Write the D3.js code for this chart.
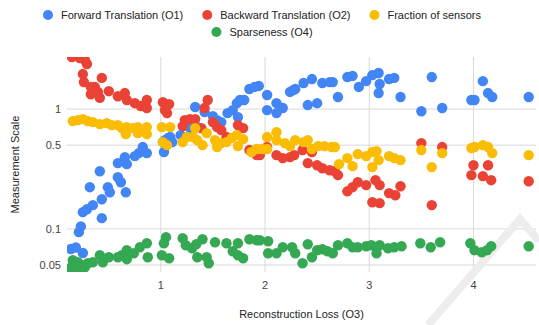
<!DOCTYPE html>
<html>
<head>
<meta charset="utf-8">
<script src="https://cdn.jsdelivr.net/npm/d3@7"></script>
<style>
  body { margin: 0; background: #fff; }
  text { font-family: Arial, "Liberation Sans", sans-serif; }
</style>
</head>
<body>
<script>
// reconstruction loss (O3) vs measurement, one [x, y] pair per point
const forward = [
  [0.156,0.045],[0.137,0.068],[0.185,0.070],[0.214,0.094],[0.233,0.105],[0.252,0.063],[0.252,0.138],
  [0.291,0.146],[0.319,0.223],[0.348,0.158],[0.415,0.303],[0.434,0.123],[0.434,0.177],[0.492,0.223],
  [0.511,0.202],[0.588,0.270],[0.617,0.245],[0.664,0.202],[0.588,0.354],[0.655,0.397],[0.674,0.347],
  [0.751,0.405],[0.789,0.429],[0.827,0.482],[0.866,0.429],[1.02,0.530],[1.03,0.438],[1.04,0.551],
  [1.07,0.573],[1.09,0.584],[1.11,0.530],[1.19,0.606],[1.28,0.694],[1.33,1.04],[1.35,0.707],
  [1.42,0.944],[1.50,0.874],[1.54,0.809],[1.58,0.779],[1.64,0.926],[1.69,0.98],[1.73,1.12],
  [1.74,0.857],[1.76,1.19],[1.80,1.19],[1.85,1.47],[1.90,1.53],[1.94,1.56],[2.02,0.98],[2.02,1.31],
  [2.11,1.12],[2.11,0.926],[2.17,1.02],[2.24,1.39],[2.27,1.44],[2.29,1.47],[2.37,1.65],[2.45,1.78],
  [2.41,1.08],[2.50,1.12],[2.55,1.65],[2.62,1.68],[2.65,1.68],[2.70,1.26],[2.79,1.85],[2.84,1.89],
  [2.90,1.53],[2.97,1.71],[3.03,1.92],[3.09,2.0],[3.10,1.62],[3.09,1.36],[3.19,1.78],[3.24,1.82],
  [3.30,1.26],[3.50,0.96],[3.60,1.85],[3.70,1.02],[3.98,1.19],[4.01,1.19],[4.09,1.71],[4.14,1.36],
  [4.18,1.26],[4.53,1.26]
];
const backward = [
  [0.147,2.72],[0.223,2.67],[0.271,2.57],[0.291,2.38],[0.252,1.96],[0.262,1.68],[0.329,1.53],
  [0.367,1.53],[0.434,1.82],[0.396,1.39],[0.329,1.33],[0.415,1.24],[0.501,1.41],[0.588,1.28],
  [0.655,1.36],[0.674,1.19],[0.751,1.12],[0.808,1.06],[0.866,1.19],[0.866,1.02],[1.02,1.14],
  [1.04,0.98],[1.08,1.10],[1.06,0.926],[1.23,0.809],[1.21,0.721],[1.28,0.825],[1.33,0.825],
  [1.42,1.02],[1.45,1.19],[1.39,0.694],[1.50,0.779],[1.54,0.707],[1.58,0.668],[1.63,0.584],
  [1.74,0.735],[1.79,0.694],[1.85,0.455],[1.92,0.413],[1.95,0.413],[2.02,0.482],[2.11,0.413],
  [2.17,0.390],[2.24,0.397],[2.28,0.413],[2.36,0.455],[2.45,0.438],[2.41,0.354],[2.50,0.340],
  [2.55,0.321],[2.62,0.309],[2.67,0.303],[2.70,0.281],[2.79,0.206],[2.84,0.223],[2.89,0.245],
  [2.97,0.232],[3.06,0.255],[3.10,0.232],[3.03,0.167],[3.10,0.164],[3.19,0.199],[3.25,0.191],
  [3.30,0.227],[3.60,0.158],[3.50,0.520],[3.70,0.482],[4.00,0.340],[4.14,0.340],[3.98,0.281],
  [4.09,0.276],[4.17,0.255],[4.53,0.250]
];
const fraction = [
  [0.156,0.794],[0.204,0.809],[0.252,0.825],[0.300,0.794],[0.348,0.779],[0.415,0.749],[0.482,0.764],
  [0.530,0.735],[0.588,0.735],[0.626,0.694],[0.674,0.707],[0.664,0.618],[0.732,0.694],[0.779,0.707],
  [0.779,0.630],[0.818,0.668],[0.866,0.707],[0.866,0.618],[1.01,0.707],[1.09,0.707],[1.02,0.530],
  [1.06,0.500],[1.21,0.530],[1.25,0.584],[1.31,0.584],[1.33,0.694],[1.35,0.551],[1.40,0.500],
  [1.44,0.630],[1.52,0.551],[1.54,0.482],[1.58,0.520],[1.63,0.530],[1.68,0.573],[1.73,0.606],
  [1.74,0.491],[1.79,0.561],[1.87,0.438],[1.92,0.464],[1.97,0.464],[2.02,0.464],[2.02,0.584],
  [2.11,0.642],[2.11,0.551],[2.19,0.520],[2.24,0.491],[2.29,0.551],[2.37,0.530],[2.41,0.551],
  [2.45,0.464],[2.51,0.491],[2.57,0.491],[2.64,0.482],[2.67,0.482],[2.71,0.347],[2.79,0.390],
  [2.84,0.334],[2.89,0.421],[2.97,0.405],[3.03,0.438],[3.07,0.446],[3.09,0.375],[3.03,0.328],
  [3.19,0.405],[3.24,0.390],[3.30,0.375],[3.50,0.455],[3.60,0.328],[3.70,0.429],[3.98,0.473],
  [4.01,0.482],[4.09,0.500],[4.14,0.482],[4.18,0.429],[4.53,0.413]
];
const sparseness = [
  [0.156,0.0548],[0.175,0.0478],[0.204,0.0527],[0.243,0.0497],[0.271,0.0478],[0.223,0.0452],
  [0.156,0.0497],[0.128,0.047],[0.194,0.0452],[0.300,0.0517],[0.348,0.0527],[0.415,0.0603],
  [0.444,0.0527],[0.501,0.058],[0.588,0.058],[0.626,0.0603],[0.674,0.0664],[0.674,0.0559],
  [0.741,0.0627],[0.799,0.0703],[0.866,0.076],[0.875,0.058],[1.01,0.0603],[1.05,0.0853],
  [1.03,0.076],[1.08,0.0569],[1.21,0.0836],[1.24,0.0731],[1.30,0.069],[1.34,0.0745],[1.35,0.058],
  [1.40,0.082],[1.44,0.058],[1.46,0.0517],[1.52,0.0774],[1.63,0.076],[1.69,0.0651],[1.74,0.076],
  [1.74,0.0603],[1.79,0.0569],[1.85,0.082],[1.92,0.0805],[1.95,0.0805],[2.03,0.0789],[2.03,0.0627],
  [2.11,0.0627],[2.17,0.0703],[2.26,0.0703],[2.29,0.0627],[2.36,0.0517],[2.41,0.0745],[2.45,0.058],
  [2.50,0.0664],[2.55,0.0677],[2.60,0.0651],[2.65,0.0627],[2.70,0.0731],[2.79,0.076],[2.84,0.0703],
  [2.89,0.0703],[2.97,0.0717],[3.02,0.0731],[3.07,0.0703],[3.07,0.0627],[3.10,0.0731],[3.18,0.069],
  [3.24,0.0703],[3.31,0.0717],[3.49,0.076],[3.59,0.0703],[3.68,0.0774],[3.97,0.076],[4.01,0.0664],
  [4.08,0.0639],[4.13,0.0664],[4.17,0.0717],[4.53,0.0717]
];

const seriesNames = ["Forward Translation (O1)", "Backward Translation (O2)", "Fraction of sensors", "Sparseness (O4)"];
const colors = ["#4285f4", "#ea4335", "#fbbc04", "#34a853"];
const xTicks = [1, 2, 3, 4];
const yTicks = [0.05, 0.1, 0.5, 1];
const yTickLabels = ["0.05", "0.1", "0.5", "1"];

const W = 539, H = 325;
const plotL = 67, plotR = 536, plotT = 57, plotB = 272;
const fs = 11;

const svg = d3.select("body").append("svg").attr("width", W).attr("height", H);

const x = d3.scaleLinear().domain([0.1, 4.6]).range([plotL, plotR]);
const y = d3.scaleLog().domain([0.0437, 2.72]).range([plotB, plotT]);

svg.append("defs").append("clipPath").attr("id", "plot")
  .append("rect").attr("x", plotL).attr("y", plotT).attr("width", plotR - plotL).attr("height", plotB - plotT);

// gridlines
const grid = svg.append("g");
grid.selectAll(".gx").data(xTicks).enter().append("line")
  .attr("x1", d => x(d)).attr("x2", d => x(d)).attr("y1", plotT).attr("y2", plotB)
  .attr("stroke", "#d9d9d9").attr("stroke-width", 1);
grid.selectAll(".gy").data(yTicks).enter().append("line")
  .attr("x1", plotL).attr("x2", plotR).attr("y1", d => y(d)).attr("y2", d => y(d))
  .attr("stroke", "#d9d9d9").attr("stroke-width", 1);

// faint watermark in the corner
svg.append("polyline")
  .attr("points", "428,325 520,219 539,241")
  .attr("fill", "none").attr("stroke", "#ededed").attr("stroke-width", 8);

// tick labels
svg.selectAll(".xl").data(xTicks).enter().append("text")
  .attr("x", d => x(d)).attr("y", 289).attr("text-anchor", "middle")
  .attr("font-size", fs).attr("fill", "#444").text(d => d);
svg.selectAll(".yl").data(yTicks).enter().append("text")
  .attr("x", 61).attr("y", d => y(d) + 4).attr("text-anchor", "end")
  .attr("font-size", fs).attr("fill", "#444").text((d, i) => yTickLabels[i]);

// axis titles
svg.append("text").attr("x", (plotL + plotR) / 2).attr("y", 318).attr("text-anchor", "middle")
  .attr("font-size", fs).attr("fill", "#222").text("Reconstruction Loss (O3)");
svg.append("text").attr("transform", `translate(19,${(plotT + plotB) / 2}) rotate(-90)`)
  .attr("text-anchor", "middle").attr("font-size", fs).attr("fill", "#222").text("Measurement Scale");

// points
const plot = svg.append("g").attr("clip-path", "url(#plot)");
[forward, backward, fraction, sparseness].forEach((data, i) => {
  plot.append("g").selectAll("circle").data(data).enter().append("circle")
    .attr("cx", d => x(d[0])).attr("cy", d => y(d[1])).attr("r", 5.2)
    .attr("fill", colors[i]);
});

// legend, two centred rows
const rows = [[0, 1, 2], [3]];
const rowY = [15, 32];
const center = 262;
rows.forEach((row, r) => {
  const g = svg.append("g");
  let cx = 0;
  row.forEach((si, k) => {
    const item = g.append("g").attr("transform", `translate(${cx},0)`);
    item.append("circle").attr("cx", 5).attr("cy", rowY[r]).attr("r", 5).attr("fill", colors[si]);
    const t = item.append("text").attr("x", 18).attr("y", rowY[r] + 4)
      .attr("font-size", fs).attr("fill", "#222").text(seriesNames[si]);
    cx += 18 + t.node().getComputedTextLength() + 19;
  });
  const total = cx - 19;
  g.attr("transform", `translate(${center - total / 2},0)`);
});
</script>
</body>
</html>
